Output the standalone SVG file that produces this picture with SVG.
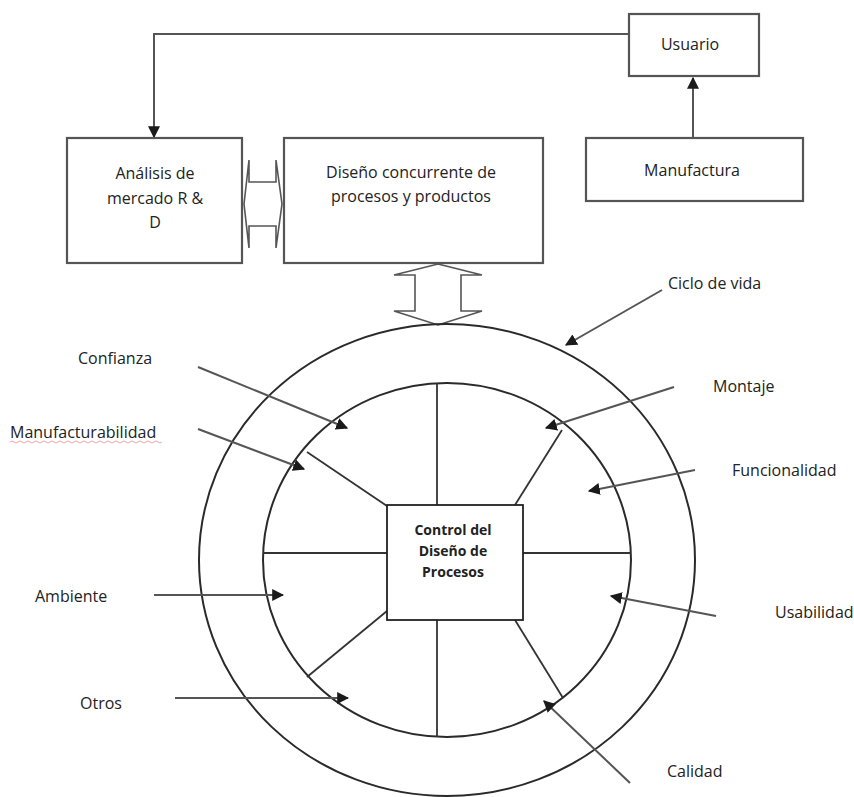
<svg xmlns="http://www.w3.org/2000/svg" width="854" height="797" viewBox="0 0 854 797">
<defs>
<style>
.box{fill:#fff;stroke:#555;stroke-width:2.2}
.t{font-family:"Open Sans","Noto Sans",sans-serif;font-size:16px;fill:#222;text-anchor:middle}
.lb{font-family:"Open Sans","Noto Sans",sans-serif;font-size:16px;fill:#222}
.b{font-family:"Open Sans","Noto Sans",sans-serif;font-size:14px;font-weight:bold;fill:#222;text-anchor:middle}
.ring{fill:none;stroke:#2a2a2a;stroke-width:2}
.spoke{fill:none;stroke:#333;stroke-width:1.8}
.arr{fill:none;stroke:#555;stroke-width:2;marker-end:url(#ah)}
.blk{fill:#fff;stroke:#555;stroke-width:1.6;stroke-linejoin:miter}
</style>
<marker id="ah" viewBox="0 0 10 10" refX="9" refY="5" markerWidth="6" markerHeight="6" markerUnits="strokeWidth" orient="auto">
<path d="M0,0 L10,5 L0,10 Z" fill="#1a1a1a"/>
</marker>
</defs>
<rect width="854" height="797" fill="#fff"/>

<g id="connectors">
<polyline class="arr" points="629,34 154,34 154,137"/>
<line class="arr" x1="693" y1="138" x2="693" y2="78"/>
<polygon class="blk" points="244,204 249,160 249,182 276,182 276,160 282,204 276,248 276,226 249,226 249,248"/>
<polygon class="blk" points="438,264 482,275 461,275 461,311 482,311 438,325 394,311 415,311 415,275 394,275"/>
</g>

<g id="ring">
<ellipse class="ring" cx="447" cy="560" rx="248" ry="236"/>
<ellipse class="ring" cx="447" cy="560" rx="184" ry="177"/>
<line class="spoke" x1="437" y1="383" x2="437" y2="505"/>
<line class="spoke" x1="437" y1="620" x2="437" y2="737"/>
<line class="spoke" x1="263" y1="553" x2="387" y2="553"/>
<line class="spoke" x1="523" y1="553" x2="631" y2="553"/>
<line class="spoke" x1="307" y1="452" x2="387" y2="506"/>
<line class="spoke" x1="562" y1="430" x2="515" y2="505"/>
<line class="spoke" x1="307" y1="677" x2="387" y2="611"/>
<line class="spoke" x1="563" y1="698" x2="515" y2="620"/>
</g>

<g id="factor-arrows">
<line class="arr" x1="662" y1="290" x2="566" y2="345"/>
<line class="arr" x1="198" y1="367" x2="347" y2="428"/>
<line class="arr" x1="198" y1="429" x2="304" y2="469"/>
<line class="arr" x1="674" y1="387" x2="546" y2="428"/>
<line class="arr" x1="695" y1="470" x2="589" y2="491"/>
<line class="arr" x1="716" y1="616" x2="611" y2="596"/>
<line class="arr" x1="154" y1="595" x2="283" y2="595"/>
<line class="arr" x1="175" y1="698" x2="348" y2="698"/>
<line class="arr" x1="630" y1="783" x2="544" y2="701"/>
</g>

<g id="usuario">
<rect class="box" x="629" y="14" width="130" height="62"/>
<text class="t" x="690" y="50">Usuario</text>
</g>
<g id="manufactura">
<rect class="box" x="586" y="138" width="217" height="63"/>
<text class="t" x="692" y="176">Manufactura</text>
</g>
<g id="analisis">
<rect class="box" x="67" y="138" width="175" height="125"/>
<text class="t" x="155" y="179">Análisis de</text>
<text class="t" x="155" y="204">mercado R &amp;</text>
<text class="t" x="155" y="228">D</text>
</g>
<g id="diseno">
<rect class="box" x="284" y="138" width="259" height="125"/>
<text class="t" x="411" y="178">Diseño concurrente de</text>
<text class="t" x="411" y="202">procesos y productos</text>
</g>
<g id="control">
<rect x="387" y="505" width="136" height="115" fill="#fff" stroke="#222" stroke-width="1.8"/>
<text class="b" x="453" y="535">Control del</text>
<text class="b" x="453" y="556">Diseño de</text>
<text class="b" x="453" y="577">Procesos</text>
</g>

<g id="labels">
<text class="lb" x="668" y="289">Ciclo de vida</text>
<text class="lb" x="78" y="364">Confianza</text>
<text class="lb" x="10" y="438">Manufacturabilidad</text>
<path d="M10,442 q2,-2 4,0 t4,0 t4,0 t4,0 t4,0 t4,0 t4,0 t4,0 t4,0 t4,0 t4,0 t4,0 t4,0 t4,0 t4,0 t4,0 t4,0 t4,0 t4,0 t4,0 t4,0 t4,0 t4,0 t4,0 t4,0 t4,0 t4,0 t4,0 t4,0 t4,0 t4,0 t4,0 t4,0 t4,0 t4,0 t4,0 t4,0 t4,0" fill="none" stroke="#d04040" stroke-width="0.8" opacity="0.6"/>
<text class="lb" x="713" y="392">Montaje</text>
<text class="lb" x="732" y="476">Funcionalidad</text>
<text class="lb" x="35" y="602">Ambiente</text>
<text class="lb" x="775" y="618">Usabilidad</text>
<text class="lb" x="80" y="709">Otros</text>
<text class="lb" x="667" y="777">Calidad</text>
</g>
</svg>
